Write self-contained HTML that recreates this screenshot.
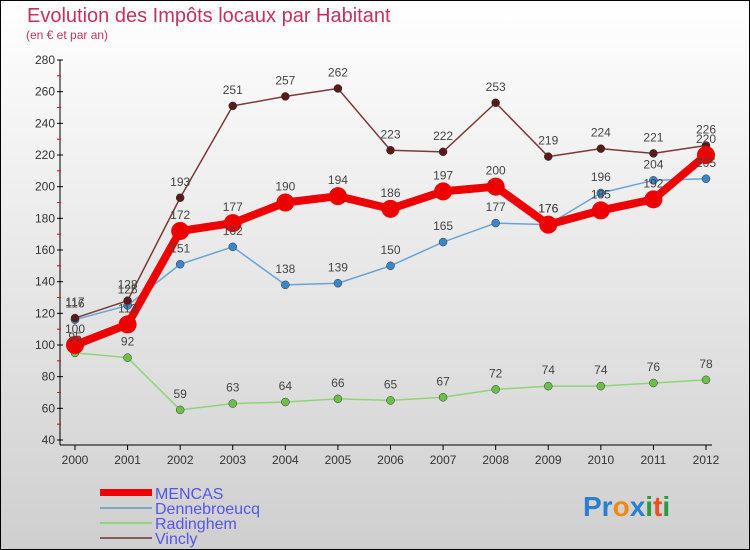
<!DOCTYPE html>
<html><head><meta charset="utf-8"><style>
body{margin:0;width:750px;height:550px;overflow:hidden}
svg{display:block;font-family:"Liberation Sans",sans-serif}
</style></head><body>
<svg id="chart" width="750" height="550">
<defs><linearGradient id="bg" x1="0" y1="0" x2="0" y2="1"><stop offset="0" stop-color="#ffffff"/><stop offset="1" stop-color="#cfcfcf"/></linearGradient></defs>
<rect x="0.5" y="0.5" width="749" height="549" fill="url(#bg)" stroke="#000"/>
<text x="27" y="22" font-size="20" fill="#c0335f">Evolution des Impôts locaux par Habitant</text>
<text x="26" y="39" font-size="12" fill="#c0335f">(en € et par an)</text>
<g id="axes"></g><g id="series"></g><g id="labels"></g>
<g>
<rect x="100" y="489" width="52" height="7" fill="#e00"/>
<text x="155" y="499" font-size="16" fill="#5555ee">MENCAS</text>
<rect x="100" y="507" width="52" height="2" fill="#7aa6c8"/>
<text x="155" y="514" font-size="16" fill="#5555ee">Dennebroeucq</text>
<rect x="100" y="522" width="52" height="2" fill="#8fd47a"/>
<text x="155" y="529" font-size="16" fill="#5555ee">Radinghem</text>
<rect x="100" y="537" width="52" height="2" fill="#8a5a5a"/>
<text x="155" y="544" font-size="16" fill="#5555ee">Vincly</text>
</g>
<g font-size="28" font-weight="bold">
<text x="583" y="516"><tspan fill="#2a7fd0">Pr</tspan><tspan fill="#f08a10">o</tspan><tspan fill="#2a7fd0">x</tspan><tspan fill="#2a9a3a">i</tspan><tspan fill="#f05020">t</tspan><tspan fill="#2a9a3a">i</tspan></text>
</g>
</svg>
<script>
const years=[2000,2001,2002,2003,2004,2005,2006,2007,2008,2009,2010,2011,2012];
const yTicks=[40,60,80,100,120,140,160,180,200,220,240,260,280];
const mencas=[100,113,172,177,190,194,186,197,200,176,185,192,220];
const dennebroeucq=[116,125,151,162,138,139,150,165,177,176,196,204,205];
const radinghem=[95,92,59,63,64,66,65,67,72,74,74,76,78];
const vincly=[117,128,193,251,257,262,223,222,253,219,224,221,226];
const NS="http://www.w3.org/2000/svg";
const x=i=>75+i*(706-75)/(years.length-1);
const y=v=>440-(v-40)*380/240;
function mk(t,a,p){const e=document.createElementNS(NS,t);for(const k in a)e.setAttribute(k,a[k]);p.appendChild(e);return e;}
const ax=document.getElementById('axes');
const yl=mk('line',{x1:60,y1:60,x2:60,y2:445,stroke:'#000'},ax);


const xl=mk('line',{x1:60,y1:445,x2:712,y2:445,stroke:'#000'},ax);


yTicks.forEach((t,i)=>{mk('line',{x1:57,x2:63,y1:y(t),y2:y(t),stroke:'#000'},ax);
 if(i<yTicks.length-1)mk('line',{x1:57,x2:61,y1:y(t+10),y2:y(t+10),stroke:'#e00'},ax);
 const tx=mk('text',{x:55,y:y(t)+4,'text-anchor':'end','font-size':12,fill:'#333'},ax);tx.textContent=t;
 
 });
years.forEach((yr,i)=>{mk('line',{x1:x(i),x2:x(i),y1:445,y2:450,stroke:'#000'},ax);
 const tx=mk('text',{x:x(i),y:464,'text-anchor':'middle','font-size':12,fill:'#333'},ax);tx.textContent=yr;
 
 });
const sg=document.getElementById('series'),lg=document.getElementById('labels');
const defs=[[radinghem,'#8fd47a','#6cc04a','radinghem',1.5,4],[dennebroeucq,'#6aa4d4','#3a86c8','dennebroeucq',1.5,4],[vincly,'#7a3a3a','#5a1a1a','vincly',1.5,4],[mencas,'#ee0000','#ee0000','mencas',8,9]];
defs.forEach(([d,c,dc,n,w,r])=>{
 const g=mk('g',{},sg);
 
 
 const pl=mk('polyline',{points:d.map((v,i)=>x(i)+','+y(v)).join(' '),fill:'none',stroke:c,'stroke-width':w,'stroke-linejoin':'round'},g);
 
 
 d.forEach((v,i)=>{const p=mk('circle',{cx:x(i),cy:y(v),r:r,fill:dc,stroke:n==='mencas'?'#c00':'#333','stroke-width':n==='mencas'?0:0.5},g);
  
  
  const t=mk('text',{x:x(i),y:y(v)-12,'text-anchor':'middle','font-size':12,fill:'#444'},lg);t.textContent=v;
  
  });
});
</script>
</body></html>
